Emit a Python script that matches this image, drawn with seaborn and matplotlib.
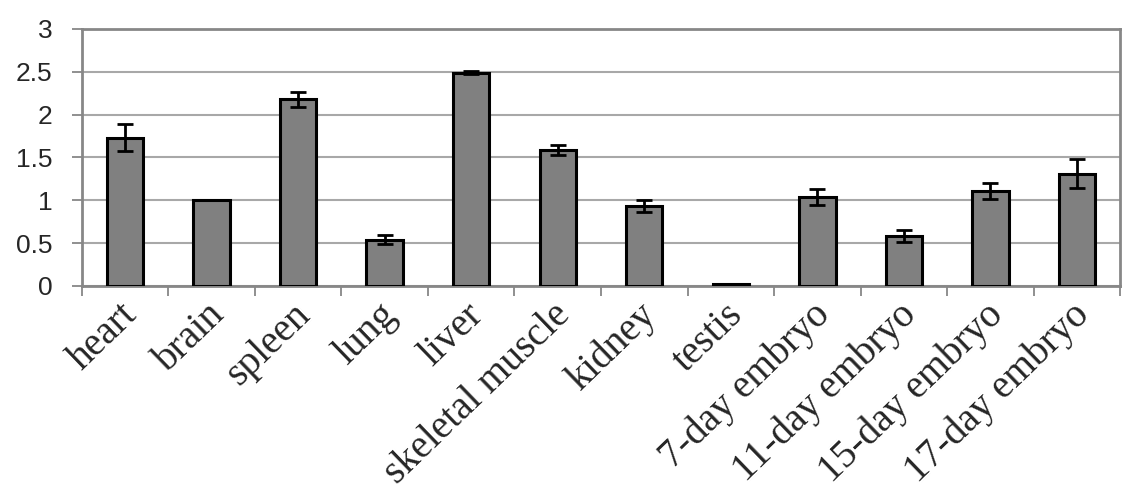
#!/usr/bin/env python3

"""
Relative expression by tissue / embryo stage, bar chart with error bars.
Saves out.png (1127x493).
"""

import matplotlib
matplotlib.use("Agg")

import matplotlib.pyplot as plt
import matplotlib.ticker as mticker
import matplotlib.transforms as mtransforms
import pandas as pd
import seaborn as sns

# --- Data ---
tissues = [
    "heart", "brain", "spleen", "lung", "liver", "skeletal muscle",
    "kidney", "testis", "7-day embryo", "11-day embryo",
    "15-day embryo", "17-day embryo",
]
expression = [1.73, 1.00, 2.18, 0.54, 2.49, 1.59,
              0.93, 0.02, 1.04, 0.58, 1.11, 1.31]
error = [0.16, 0.0, 0.09, 0.05, 0.02, 0.06,
         0.07, 0.0, 0.09, 0.07, 0.09, 0.17]
y_ticks = [0, 0.5, 1, 1.5, 2, 2.5, 3]

FRAME = "#878787"
GRID = "#a8a8a8"

sns.set_theme(style="white")


def main():
    df = pd.DataFrame({"tissue": tissues, "value": expression, "err": error})

    fig = plt.figure(figsize=(11.27, 4.93), dpi=100)
    ax = fig.add_axes([0.0725, 0.42, 0.9215, 0.5212])

    sns.barplot(
        data=df, x="tissue", y="value", order=tissues,
        color="#808080", saturation=1, edgecolor="black",
        linewidth=2.2, width=0.42, errorbar=None, ax=ax, zorder=3,
    )

    # error bars only where there is a spread
    has_err = df[df["err"] > 0]
    xpos = [tissues.index(t) for t in has_err["tissue"]]
    ax.errorbar(
        xpos, has_err["value"], yerr=has_err["err"], fmt="none",
        ecolor="black", elinewidth=2, capsize=6, capthick=2, zorder=4,
    )

    # y axis
    ax.set_ylim(0, 3)
    ax.set_yticks(y_ticks)
    ax.yaxis.set_major_formatter(mticker.FormatStrFormatter("%g"))
    ax.yaxis.grid(True, color=GRID, linewidth=1.5, zorder=0)
    ax.set_axisbelow(True)
    ax.tick_params(axis="y", direction="out", length=7, width=1.3,
                   color=FRAME, pad=14, left=True)
    for lab in ax.get_yticklabels():
        lab.set_fontfamily("Liberation Sans")
        lab.set_fontsize(19)

    # x axis: ticks between categories
    ax.set_xlim(-0.5, len(tissues) - 0.5)
    ax.set_xticks(range(len(tissues)))
    ax.set_xticks([i - 0.5 for i in range(len(tissues) + 1)], minor=True)
    ax.tick_params(axis="x", which="major", length=0, pad=17)
    ax.tick_params(axis="x", which="minor", direction="out", length=7.5,
                   width=1.3, color=FRAME, bottom=True)
    ax.set_xticklabels(tissues, rotation=44, ha="right", va="center",
                       rotation_mode="anchor",
                       fontfamily="Liberation Serif", fontsize=28.5)
    shift = mtransforms.ScaledTranslation(0.07, 0, fig.dpi_scale_trans)
    for lab in ax.get_xticklabels():
        lab.set_transform(lab.get_transform() + shift)

    ax.set_xlabel("")
    ax.set_ylabel("")
    for side in ["left", "right", "top", "bottom"]:
        ax.spines[side].set_visible(True)
        ax.spines[side].set_color(FRAME)
        ax.spines[side].set_linewidth(2)

    fig.savefig("out.png", dpi=100, facecolor="white")
    plt.close(fig)


if __name__ == "__main__":
    main()
